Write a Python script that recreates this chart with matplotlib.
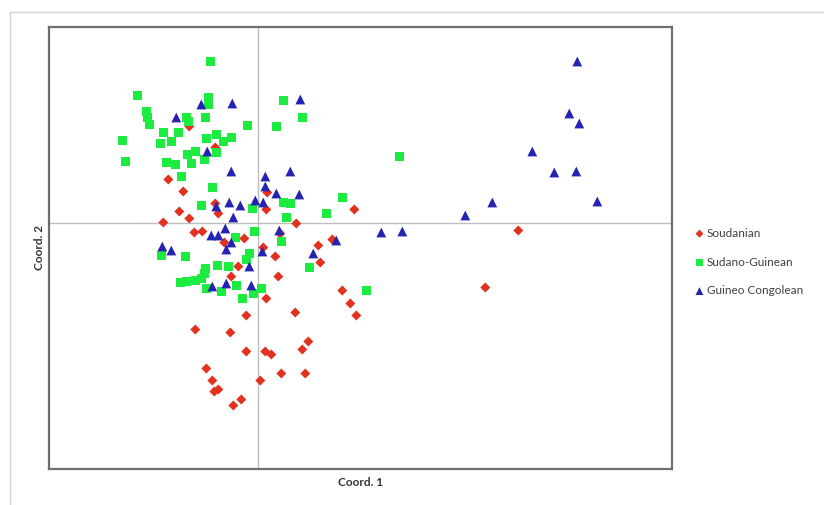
import matplotlib
matplotlib.use("Agg")
import matplotlib.pyplot as plt
from matplotlib.lines import Line2D

# PCoA coordinates (Coord. 1, Coord. 2)
soud_x = [-0.69, -0.43, -0.90, -0.75, -0.79, -0.95, -0.69, -0.43, -0.40, -0.64,
          -0.56, -0.14, -0.34, 0.08, 0.09, 0.38, 0.22, 0.17, 0.05, -0.20,
          -0.27, 0.20, 0.08, 0.60, 0.96, 0.74, 0.62, 0.84, 0.92, 0.98,
          -0.12, 0.37, -0.63, -0.28, 0.50, 0.44, -0.12, 0.07, 0.13, -0.52,
          -0.46, 0.02, 0.23, 0.47, -0.40, -0.44, -0.17, -0.25, 2.60, 2.27]
soud_y = [0.96, 0.75, 0.43, 0.31, 0.11, 0.00, 0.04, 0.19, 0.09, -0.10,
          -0.09, -0.16, -0.20, 0.13, 0.30, -0.01, -0.11, -0.34, -0.25, -0.44,
          -0.54, -0.54, -0.76, -0.23, 0.13, -0.17, -0.40, -0.68, -0.81, -0.93,
          -0.93, -0.90, -1.07, -1.10, -1.19, -1.27, -1.29, -1.29, -1.32, -1.46,
          -1.58, -1.58, -1.51, -1.51, -1.67, -1.69, -1.77, -1.83, -0.08, -0.65]

sg_x = [-0.48, -1.21, -1.12, -1.11, -1.09, -0.50, -0.50, -0.72, -0.70, -0.53,
        -0.11, 0.18, 0.25, 0.44, -1.36, -0.95, -0.80, -0.98, -0.87, -0.52,
        -0.42, -0.35, -0.27, -0.71, -0.63, -0.42, -0.54, -1.33, -0.92, -0.83,
        -0.67, -0.77, -0.46, -0.57, -0.06, -0.04, 0.25, 0.32, 0.28, 0.23,
        -0.23, -0.97, -0.73, -0.09, -0.12, -0.53, -0.41, -0.30, -0.78, -0.72,
        -0.63, -0.57, -0.54, -0.52, -0.37, -0.22, -0.16, -0.05, 0.03, 0.51,
        0.84, 0.68, 1.08, 1.41]
sg_y = [1.61, 1.27, 1.11, 1.05, 0.98, 1.25, 1.18, 1.05, 1.01, 1.05,
        0.97, 0.96, 1.22, 1.05, 0.82, 0.90, 0.90, 0.79, 0.81, 0.84,
        0.88, 0.81, 0.85, 0.68, 0.71, 0.70, 0.63, 0.61, 0.60, 0.58,
        0.59, 0.46, 0.35, 0.17, 0.14, -0.09, 0.20, 0.19, 0.05, -0.19,
        -0.15, -0.33, -0.34, -0.31, -0.37, -0.46, -0.43, -0.44, -0.60, -0.59,
        -0.58, -0.56, -0.51, -0.66, -0.69, -0.63, -0.76, -0.71, -0.66, -0.45,
        0.25, 0.09, -0.68, 0.66]

gc_x = [-0.57, -0.26, 0.42, -0.82, -0.51, -0.27, 0.07, 0.32, 0.07, 0.18,
        0.41, -0.03, 0.05, -0.29, -0.18, -0.42, -0.25, -0.33, -0.47, -0.40,
        -0.27, -0.32, -0.96, -0.87, 0.21, 0.04, -0.09, 0.55, -0.46, -0.32,
        -0.07, 0.78, 1.23, 1.44, 2.07, 2.34, 2.74, 2.96, 3.18, 3.11,
        3.21, 3.19, 3.39]
gc_y = [1.18, 1.19, 1.23, 1.05, 0.71, 0.51, 0.46, 0.51, 0.36, 0.29,
        0.28, 0.22, 0.20, 0.20, 0.17, 0.16, 0.05, -0.06, -0.13, -0.13,
        -0.20, -0.27, -0.24, -0.28, -0.08, -0.29, -0.44, -0.31, -0.64, -0.61,
        -0.63, -0.18, -0.10, -0.09, 0.07, 0.20, 0.71, 0.50, 0.51, 1.09,
        0.99, 1.61, 0.21]

plt.rcParams['font.family'] = ['Lato', 'DejaVu Sans']

fig = plt.figure(figsize=(8.24, 5.05), dpi=100)
ax = fig.add_axes([49 / 824, 1 - 469 / 505, 623 / 824, 442 / 505])

ax.axhline(0, color='#bdbdbd', lw=1, zorder=1)
ax.axvline(0, color='#bdbdbd', lw=1, zorder=1)

ax.scatter(soud_x, soud_y, marker='D', s=26, color='#e2311f', edgecolors='none',
           label='Soudanian', zorder=3)
ax.scatter(sg_x, sg_y, marker='s', s=42, color='#1cec40', edgecolors='none',
           label='Sudano-Guinean', zorder=4)
ax.scatter(gc_x, gc_y, marker='^', s=50, color='#2424b0', edgecolors='none',
           label='Guineo Congolean', zorder=5)

ax.set_xlim(-2.093, 4.137)
ax.set_ylim(-2.465, 1.955)
ax.set_xticks([])
ax.set_yticks([])
for sp in ax.spines.values():
    sp.set_color('#6e6e6e')
    sp.set_linewidth(1.6)

ax.set_xlabel('Coord. 1', fontsize=8.5, fontweight='bold', color='#333333', labelpad=6)
ax.set_ylabel('Coord. 2', fontsize=8.5, fontweight='bold', color='#333333', labelpad=3)

fig.legend(loc='center left', bbox_to_anchor=(690 / 824, 1 - 262 / 505),
           frameon=False, fontsize=8.5, handlelength=0.6, handletextpad=0.3,
           labelspacing=1.5, borderpad=0, labelcolor='#404040', markerscale=0.8)

# light outer frame of the original figure
fig.add_artist(Line2D([10 / 824, 1], [1 - 12 / 505, 1 - 12 / 505], color='#d4d4d4', lw=1))
fig.add_artist(Line2D([10 / 824, 10 / 824], [0, 1 - 12 / 505], color='#d4d4d4', lw=1))

fig.savefig('out.png', dpi=100)
